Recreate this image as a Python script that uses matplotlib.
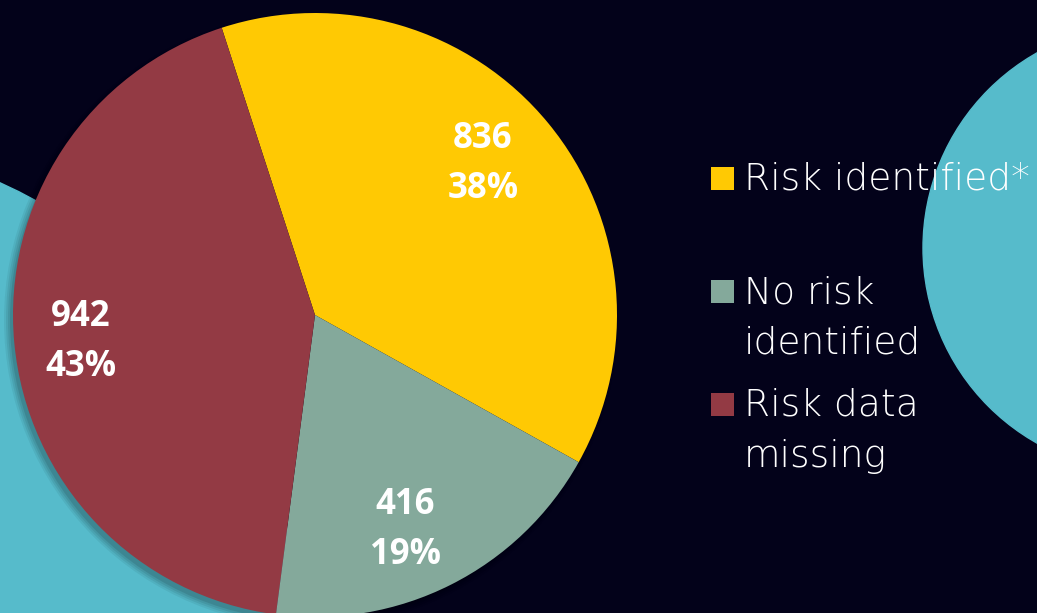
import matplotlib.pyplot as plt
from matplotlib import patches

# data
categories = ["Risk identified*", "No risk identified", "Risk data missing"]
legend_labels = ["Risk identified*", "No risk\nidentified", "Risk data\nmissing"]
counts = [836, 416, 942]
percents = ["38%", "19%", "43%"]
colors = ["#FFC903", "#84A99B", "#933A44"]

bg = "#03021A"
teal = "#56BBCB"

fig = plt.figure(figsize=(10.37, 6.13), dpi=100, facecolor=bg)
ax = fig.add_axes([0, 0, 1, 1])
ax.set_facecolor(bg)

# decorative circles behind the pie
ax.add_patch(patches.Circle((-212, -38), 514, color=teal, zorder=0))
ax.add_patch(patches.Circle((1147, 365), 224, color=teal, zorder=0))

# soft shadow under the pie (offset down-left)
for i, a in enumerate([0.06, 0.07, 0.08, 0.1]):
    ax.add_patch(patches.Circle((311, 293), 307 - 2 * i, color="black", alpha=a, lw=0, zorder=1))

center = (315, 298)
radius = 302
wedges, _ = ax.pie(counts, colors=colors, startangle=108, counterclock=False,
                   center=center, radius=radius, frame=True,
                   wedgeprops=dict(linewidth=0))
for w in wedges:
    w.set_zorder(2)

# value labels
label_pos = [(483, 448), (405, 82), (81, 270)]
for (x, y), c, p in zip(label_pos, counts, percents):
    ax.text(x, y + 26, str(c), color="white", fontsize=25, fontweight="bold",
            family="Open Sans", ha="center", va="center", zorder=3)
    ax.text(x, y - 24, p, color="white", fontsize=25, fontweight="bold",
            family="Open Sans", ha="center", va="center", zorder=3)

# legend drawn by hand
sq = 23
for i, (lab, col) in enumerate(zip(legend_labels, colors)):
    ytop = 613 - 167 - i * 113
    ax.add_patch(patches.Rectangle((711, ytop - sq), sq, sq, color=col, lw=0, zorder=3))
    for j, line in enumerate(lab.split("\n")):
        ax.text(744, ytop - sq - j * 51, line, color="white", fontsize=27,
                family="DejaVu Sans", fontweight="light", ha="left", va="baseline", zorder=4)

ax.set_xlim(0, 1037)
ax.set_ylim(0, 613)
ax.set_aspect("equal")
ax.axis("off")

fig.savefig("out.png", dpi=100, facecolor=bg)
